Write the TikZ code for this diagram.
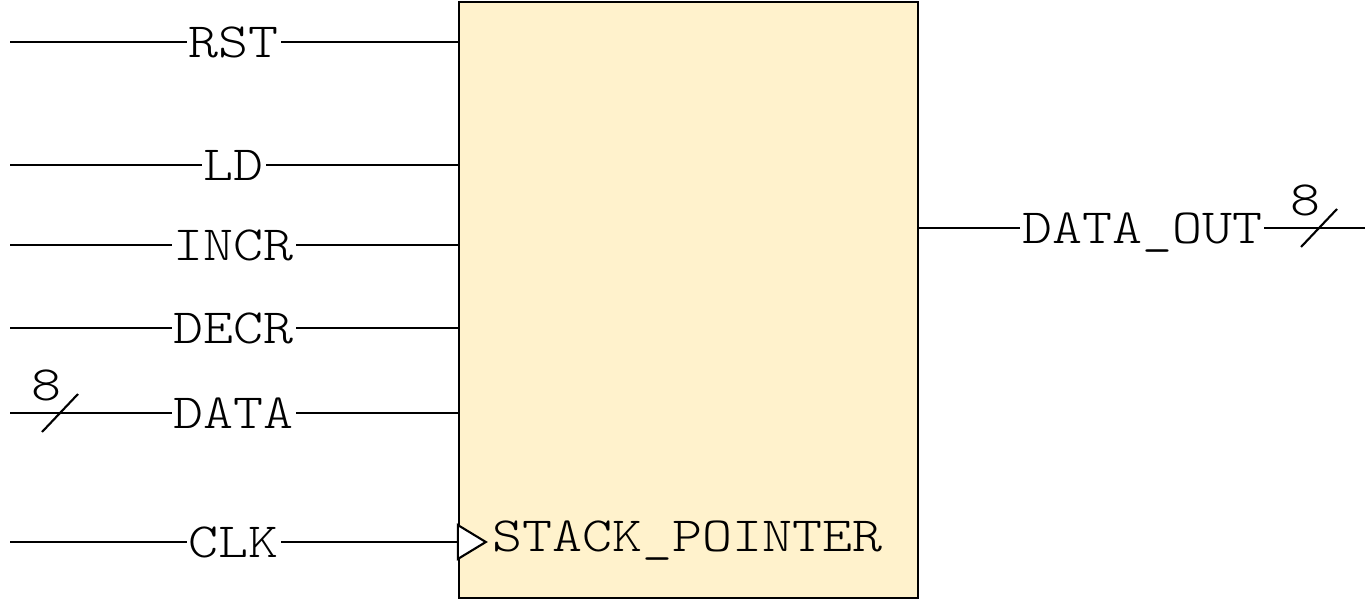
\documentclass[tikz,border=0pt]{standalone}
\usepackage{fontspec}
\setmonofont[FakeStretch=1.16]{Latin Modern Mono Light}
\usepackage{xcolor}
\usetikzlibrary{positioning}
\definecolor{regfill}{HTML}{FFF2CC}
\tikzset{
  wire/.style={black, line width=0.6pt},
  pinname/.style={font=\ttfamily\fontsize{14}{17}\selectfont, fill=white, inner sep=0.5pt, text depth=0pt},
  busnum/.style={font=\ttfamily\fontsize{14}{17}\selectfont, inner sep=0pt, text depth=0pt},
  regbox/.style={draw=black, line width=0.6pt, fill=regfill, minimum width=4.59cm, minimum height=5.96cm, inner sep=0pt},
  busmark/.pic={\draw[wire] (-18,19) -- (18,-19); \node[busnum] at (-14,-28) {#1};}
}
\begin{document}
\begin{tikzpicture}[x=0.01cm, y=-0.01cm]
\useasboundingbox (0,0) rectangle (1370,600);
\node[regbox] (sp) at (688.5,300) {};
\foreach \pname/\py in {RST/42, LD/165, INCR/245, DECR/328, DATA/413, CLK/542}
  \coordinate (in\pname) at (10,\py);
\foreach \pname in {RST, LD, INCR, DECR, DATA, CLK}
  \draw[wire] (in\pname) -- node[pinname] {\pname} (in\pname -| sp.west);
\path (inDATA) ++(50,0) pic {busmark=8};
\draw[wire, fill=white] (inCLK -| sp.west) ++(0,-17) -- ++(28,17) -- ++(-28,17) -- cycle;
\node[busnum, anchor=west] (spname) at (492,536) {STACK\_POINTER};
\coordinate (outDATA) at (1365,228);
\draw[wire] (sp.east |- outDATA) -- node[pinname] {DATA\_OUT} (outDATA);
\path (outDATA) ++(-46,0) pic {busmark=8};
\end{tikzpicture}
\end{document}
